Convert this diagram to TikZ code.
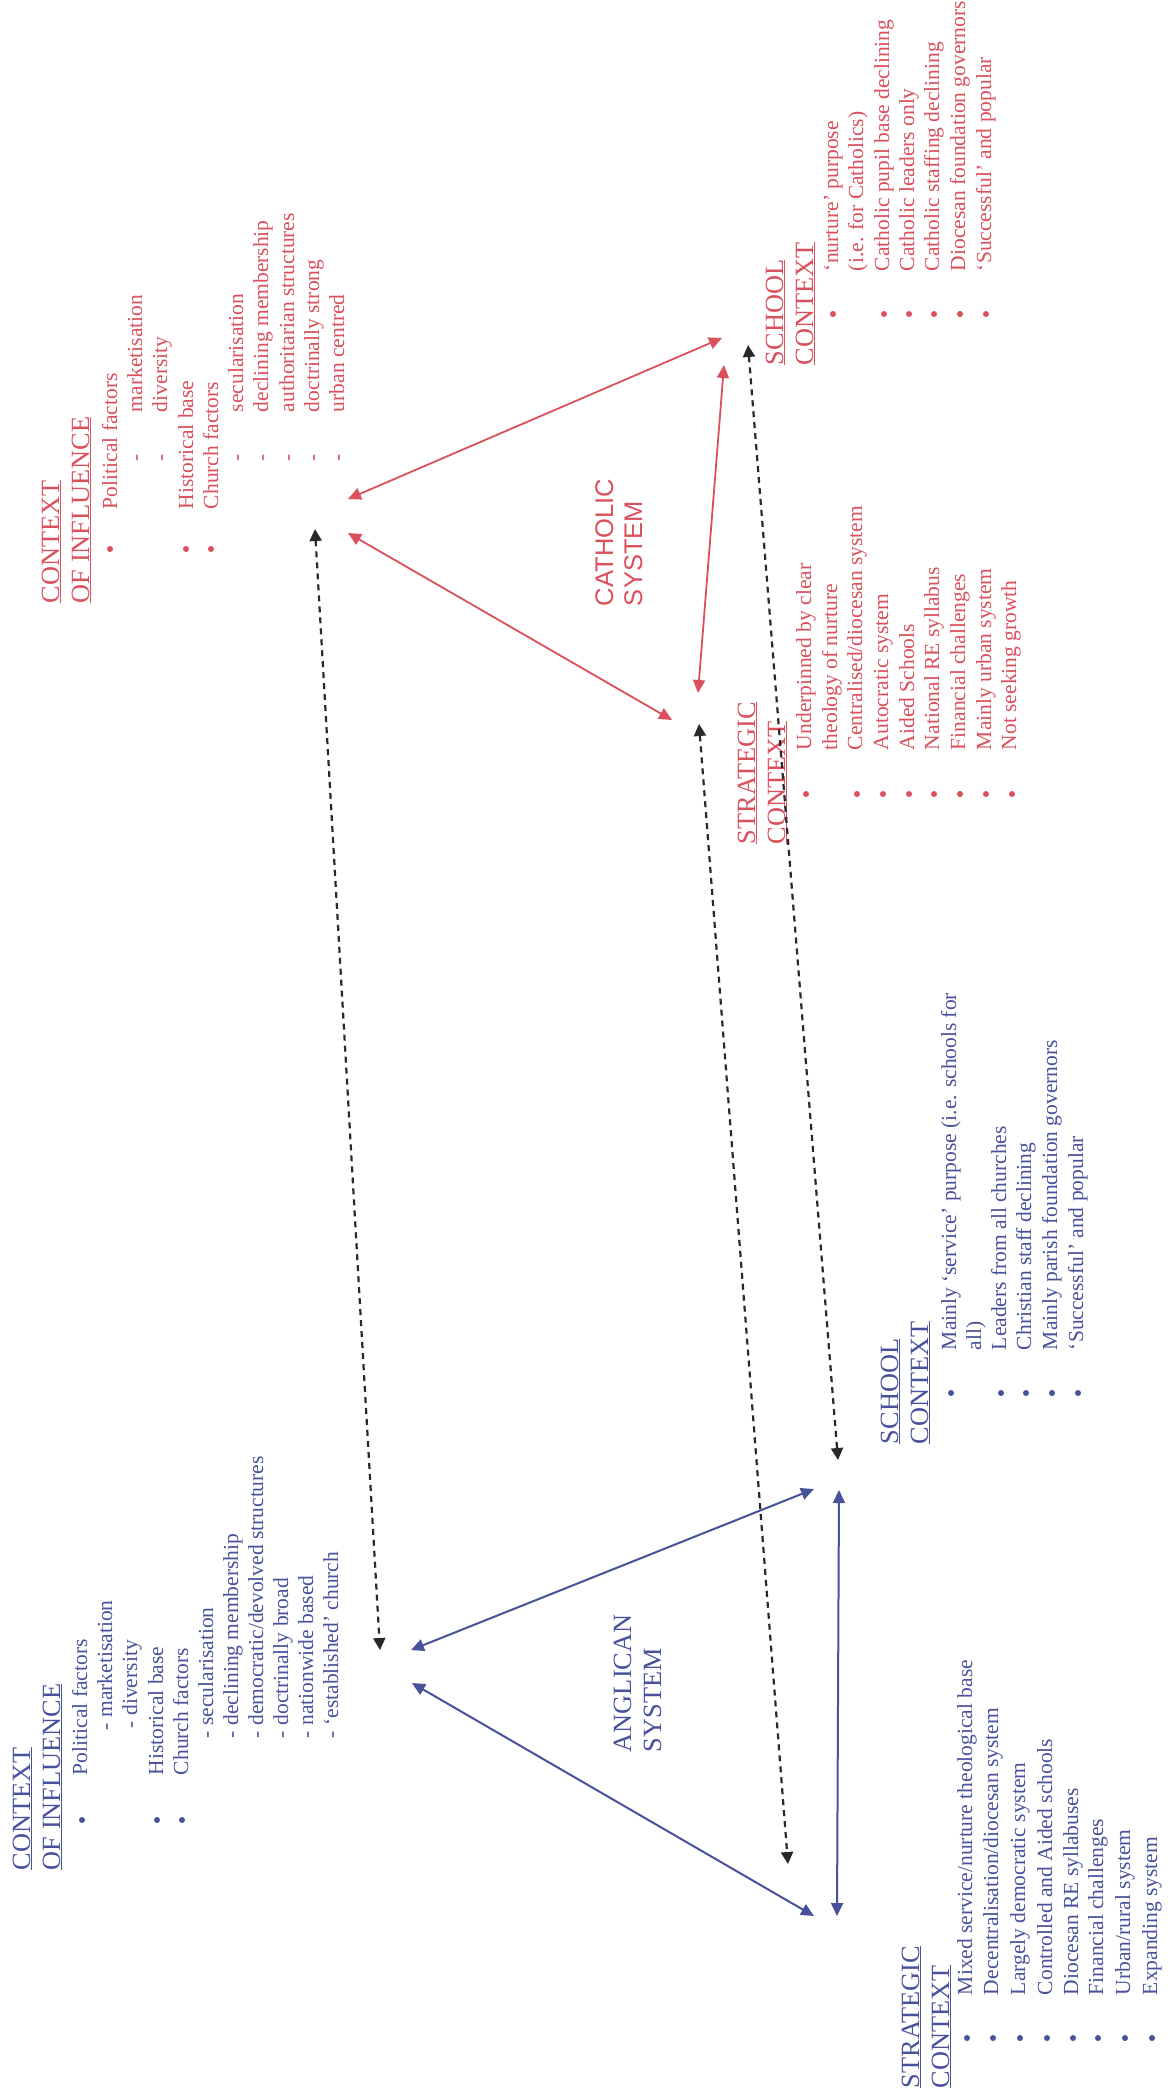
\documentclass[tikz,border=0pt]{standalone}
\usepackage{fontspec}
\setmainfont{Liberation Serif}
\newfontfamily\sansfam{Liberation Sans}
\usetikzlibrary{arrows.meta}
\definecolor{cred}{RGB}{218,80,92}
\definecolor{cblue}{RGB}{72,82,155}
\definecolor{cdark}{RGB}{40,40,45}
\newcommand\fbody{\fontsize{21.5}{25}\selectfont}
\newcommand\fhead{\fontsize{26.3}{30}\selectfont}
\newcommand\fsans{\sansfam\fontsize{25.5}{30}\selectfont}
\begin{document}
\begin{tikzpicture}[x=1pt,y=-1pt,
  txt/.style={rotate=90,anchor=base west,inner sep=0pt,outer sep=0pt,font=\fbody},
  hdg/.style={txt,font=\fhead},
  syslab/.style={txt,font=\fsans},
  bulr/.style={circle,fill=cred,inner sep=0pt,minimum size=6pt},
  bulb/.style={circle,fill=cblue,inner sep=0pt,minimum size=6pt},
  redarr/.style={draw=cred,line width=1.8pt,{Triangle[length=13pt,width=12pt]}-{Triangle[length=13pt,width=12pt]}},
  bluearr/.style={draw=cblue,line width=2pt,{Triangle[length=13pt,width=12pt]}-{Triangle[length=13pt,width=12pt]}},
  dotarr/.style={draw=cdark,line width=2.2pt,dash pattern=on 6pt off 5pt,{Triangle[length=12pt,width=12pt]}-{Triangle[length=12pt,width=12pt]}}
]
\fill[white] (0,0) rectangle (1171,2095);
\useasboundingbox (0,0) rectangle (1171,2095);

% ---------------- CATHOLIC: context of influence ----------------
\begin{scope}[text=cred]
\node[hdg] (cci1) at (59,603) {\underline{CONTEXT}};
\node[hdg] (cci2) at (89,603) {\underline{OF INFLUENCE}};
\node[bulr] (ccb1) at (110,549) {};
\node[bulr] (ccb2) at (186,549) {};
\node[bulr] (ccb3) at (211,549) {};
\node[txt] (cct1) at (117,509) {Political factors};
\node[txt] (ccd2) at (142,461) {-};
\node[txt] (cct2) at (142,412) {marketisation};
\node[txt] (ccd3) at (167,461) {-};
\node[txt] (cct3) at (167,412) {diversity};
\node[txt] (cct4) at (193,509) {Historical base};
\node[txt] (cct5) at (218,509) {Church factors};
\node[txt] (ccd6) at (243,461) {-};
\node[txt] (cct6) at (243,412) {secularisation};
\node[txt] (ccd7) at (268,461) {-};
\node[txt] (cct7) at (268,412) {declining membership};
\node[txt] (ccd8) at (294,461) {-};
\node[txt] (cct8) at (294,412) {authoritarian structures};
\node[txt] (ccd9) at (319,461) {-};
\node[txt] (cct9) at (319,412) {doctrinally strong};
\node[txt] (ccd10) at (344,461) {-};
\node[txt] (cct10) at (344,412) {urban centred};

% system label
\node[syslab] (csys1) at (613,606) {CATHOLIC};
\node[syslab] (csys2) at (642,606) {SYSTEM};

% school context
\node[hdg] (csc1) at (783,365) {\underline{SCHOOL}};
\node[hdg] (csc2) at (813,365) {\underline{CONTEXT}};
\node[bulr] (cscb1) at (833,314) {};
\node[bulr] (cscb3) at (884,314) {};
\node[bulr] (cscb4) at (909,314) {};
\node[bulr] (cscb5) at (934,314) {};
\node[bulr] (cscb6) at (960,314) {};
\node[bulr] (cscb7) at (986,314) {};
\node[txt] (csct1) at (838,271) {‘nurture’ purpose};
\node[txt] (csct2) at (863,271) {(i.e. for Catholics)};
\node[txt] (csct3) at (889,271) {Catholic pupil base declining};
\node[txt] (csct4) at (914,271) {Catholic leaders only};
\node[txt] (csct5) at (939,271) {Catholic staffing declining};
\node[txt] (csct6) at (965,271) {Diocesan foundation governors};
\node[txt] (csct7) at (991,271) {‘Successful’ and popular};

% strategic context
\node[hdg] (cst1) at (755,844) {\underline{STRATEGIC}};
\node[hdg] (cst2) at (785,844) {\underline{CONTEXT}};
\node[bulr] (cstb1) at (806,794) {};
\node[bulr] (cstb3) at (857,794) {};
\node[bulr] (cstb4) at (883,794) {};
\node[bulr] (cstb5) at (909,794) {};
\node[bulr] (cstb6) at (934,794) {};
\node[bulr] (cstb7) at (960,794) {};
\node[bulr] (cstb8) at (986,794) {};
\node[bulr] (cstb9) at (1012,794) {};
\node[txt] (cstt1) at (811,750) {Underpinned by clear};
\node[txt] (cstt2) at (837,750) {theology of nurture};
\node[txt] (cstt3) at (862,750) {Centralised/diocesan system};
\node[txt] (cstt4) at (888,750) {Autocratic system};
\node[txt] (cstt5) at (914,750) {Aided Schools};
\node[txt] (cstt6) at (939,750) {National RE syllabus};
\node[txt] (cstt7) at (965,750) {Financial challenges};
\node[txt] (cstt8) at (991,750) {Mainly urban system};
\node[txt] (cstt9) at (1016,750) {Not seeking growth};
\end{scope}

% ---------------- ANGLICAN: context of influence ----------------
\begin{scope}[text=cblue]
\node[hdg] (aci1) at (30,1870) {\underline{CONTEXT}};
\node[hdg] (aci2) at (60,1870) {\underline{OF INFLUENCE}};
\node[bulb] (acb1) at (82,1820) {};
\node[bulb] (acb2) at (157,1820) {};
\node[bulb] (acb3) at (182,1820) {};
\node[txt] (act1) at (87,1775) {Political factors};
\node[txt] (act2) at (112,1730) {- marketisation};
\node[txt] (act3) at (137,1728) {- diversity};
\node[txt] (act4) at (163,1775) {Historical base};
\node[txt] (act5) at (188,1775) {Church factors};
\node[txt] (act6) at (213,1738) {- secularisation};
\node[txt] (act7) at (238,1738) {- declining membership};
\node[txt] (act8) at (263,1738) {- democratic/devolved structures};
\node[txt] (act9) at (288,1738) {- doctrinally broad};
\node[txt] (act10) at (313,1738) {- nationwide based};
\node[txt] (act11) at (338,1738) {- ‘established’ church};

% system label
\node[hdg] (asys1) at (631,1752) {ANGLICAN};
\node[hdg] (asys2) at (661,1752) {SYSTEM};

% school context
\node[hdg] (asc1) at (898,1444) {\underline{SCHOOL}};
\node[hdg] (asc2) at (928,1444) {\underline{CONTEXT}};
\node[bulb] (ascb1) at (951,1393) {};
\node[bulb] (ascb3) at (1001,1393) {};
\node[bulb] (ascb4) at (1026,1393) {};
\node[bulb] (ascb5) at (1052,1393) {};
\node[bulb] (ascb6) at (1078,1393) {};
\node[txt] (asct1) at (956,1350) {Mainly ‘service’ purpose (i.e. schools for};
\node[txt] (asct2) at (981,1350) {all)};
\node[txt] (asct3) at (1006,1350) {Leaders from all churches};
\node[txt] (asct4) at (1031,1350) {Christian staff declining};
\node[txt] (asct5) at (1057,1350) {Mainly parish foundation governors};
\node[txt] (asct6) at (1083,1350) {‘Successful’ and popular};

% strategic context
\node[hdg] (ast1) at (919,2088) {\underline{STRATEGIC}};
\node[hdg] (ast2) at (949,2088) {\underline{CONTEXT}};
\node[bulb] (astb1) at (967,2038) {};
\node[bulb] (astb2) at (993,2038) {};
\node[bulb] (astb3) at (1020,2038) {};
\node[bulb] (astb4) at (1047,2038) {};
\node[bulb] (astb5) at (1073,2038) {};
\node[bulb] (astb6) at (1098,2038) {};
\node[bulb] (astb7) at (1125,2038) {};
\node[bulb] (astb8) at (1152,2038) {};
\node[txt] (astt1) at (972,1995) {Mixed service/nurture theological base};
\node[txt] (astt2) at (998,1995) {Decentralisation/diocesan system};
\node[txt] (astt3) at (1025,1995) {Largely democratic system};
\node[txt] (astt4) at (1052,1995) {Controlled and Aided schools};
\node[txt] (astt5) at (1078,1995) {Diocesan RE syllabuses};
\node[txt] (astt6) at (1103,1995) {Financial challenges};
\node[txt] (astt7) at (1130,1995) {Urban/rural system};
\node[txt] (astt8) at (1157,1995) {Expanding system};
\end{scope}

% ---------------- connector end points ----------------
\coordinate (cCoIa) at (348,499);
\coordinate (cCoIb) at (348,533);
\coordinate (cCoId) at (315,529);
\coordinate (cSCa) at (722,338);
\coordinate (cSCb) at (724,365);
\coordinate (cSCd) at (748,345);
\coordinate (cSTa) at (672,720);
\coordinate (cSTb) at (698,693);
\coordinate (cSTd) at (699,724);

\coordinate (aCoIa) at (411,1650);
\coordinate (aCoIb) at (412,1683);
\coordinate (aCoId) at (380,1650);
\coordinate (aSCa) at (814,1489);
\coordinate (aSCb) at (839,1490);
\coordinate (aSCd) at (838,1460);
\coordinate (aSTa) at (814,1916);
\coordinate (aSTb) at (837,1916);
\coordinate (aSTd) at (788,1864);

% Catholic triangle
\draw[redarr] (cCoIa) -- (cSCa);
\draw[redarr] (cCoIb) -- (cSTa);
\draw[redarr] (cSCb) -- (cSTb);
% Anglican triangle
\draw[bluearr] (aCoIa) -- (aSCa);
\draw[bluearr] (aCoIb) -- (aSTa);
\draw[bluearr] (aSCb) -- (aSTb);
% comparisons
\draw[dotarr] (cCoId) -- (aCoId);
\draw[dotarr] (cSTd) -- (aSTd);
\draw[dotarr] (cSCd) -- (aSCd);
\end{tikzpicture}
\end{document}
